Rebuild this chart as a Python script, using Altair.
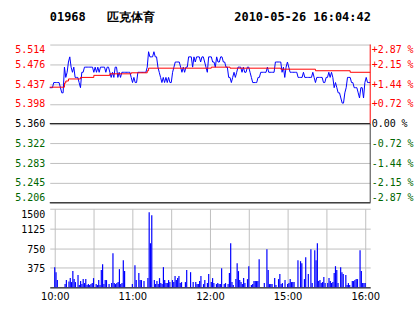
import json
import altair as alt
import pandas as pd

# ---------------- data ----------------
price_minutes = list(range(241))
price_values = [
    5.43, 5.43, 5.43, 5.44, 5.44, 5.44, 5.44, 5.44, 5.43, 5.42,
    5.42, 5.47, 5.45, 5.46, 5.48, 5.49, 5.47, 5.46, 5.47, 5.45,
    5.45, 5.45, 5.44, 5.43, 5.46, 5.46, 5.47, 5.47, 5.47, 5.47,
    5.47, 5.47, 5.47, 5.46, 5.47, 5.46, 5.47, 5.46, 5.47, 5.47,
    5.47, 5.47, 5.46, 5.47, 5.47, 5.46, 5.45, 5.46, 5.45, 5.47,
    5.47, 5.45, 5.46, 5.45, 5.46, 5.46, 5.46, 5.46, 5.46, 5.46,
    5.46, 5.45, 5.44, 5.45, 5.44, 5.44, 5.46, 5.46, 5.46, 5.46,
    5.46, 5.46, 5.46, 5.47, 5.50, 5.49, 5.49, 5.49, 5.50, 5.49,
    5.49, 5.47, 5.46, 5.45, 5.44, 5.45, 5.44, 5.45, 5.44, 5.45,
    5.44, 5.44, 5.46, 5.47, 5.48, 5.48, 5.48, 5.48, 5.47, 5.46,
    5.47, 5.46, 5.47, 5.47, 5.49, 5.49, 5.49, 5.47, 5.49, 5.48,
    5.49, 5.49, 5.49, 5.48, 5.49, 5.49, 5.48, 5.47, 5.46, 5.49,
    5.49, 5.49, 5.48, 5.48, 5.47, 5.49, 5.48, 5.48, 5.49, 5.49,
    5.48, 5.48, 5.47, 5.47, 5.45, 5.45, 5.44, 5.45, 5.46, 5.45,
    5.46, 5.47, 5.47, 5.47, 5.46, 5.47, 5.46, 5.46, 5.47, 5.47,
    5.46, 5.45, 5.44, 5.44, 5.44, 5.44, 5.45, 5.45, 5.46, 5.46,
    5.46, 5.46, 5.46, 5.47, 5.46, 5.46, 5.46, 5.46, 5.46, 5.48,
    5.48, 5.48, 5.48, 5.48, 5.46, 5.47, 5.45, 5.47, 5.48, 5.47,
    5.46, 5.46, 5.46, 5.46, 5.46, 5.46, 5.45, 5.45, 5.45, 5.45,
    5.46, 5.45, 5.45, 5.45, 5.45, 5.45, 5.45, 5.46, 5.45, 5.44,
    5.45, 5.45, 5.45, 5.45, 5.45, 5.44, 5.44, 5.45, 5.45, 5.46,
    5.45, 5.46, 5.45, 5.43, 5.44, 5.43, 5.42, 5.42, 5.41, 5.40,
    5.40, 5.42, 5.43, 5.45, 5.45, 5.45, 5.44, 5.44, 5.43, 5.43,
    5.43, 5.42, 5.41, 5.43, 5.43, 5.41, 5.44, 5.45, 5.44, 5.44,
    5.44,
]

avg_minutes = [0, 11, 12, 14, 23, 33, 45, 61, 73, 74, 121, 135, 173, 199, 225, 240]
avg_values = [5.431, 5.439, 5.443, 5.447, 5.450, 5.454, 5.457, 5.459,
              5.463, 5.468, 5.470, 5.468, 5.466, 5.463, 5.460, 5.460]

vol_minutes = [
    0, 1, 2, 8, 9, 11, 12, 13, 14, 15, 16, 18, 19, 20, 21, 22, 23, 24, 25, 26,
    27, 28, 29, 30, 32, 33, 34, 35, 36, 37, 38, 39, 40, 42, 44, 45, 46, 47, 48, 49,
    50, 51, 52, 53, 54, 60, 62, 63, 65, 66, 67, 69, 72, 73, 74, 75, 77, 78, 79, 80,
    81, 82, 83, 84, 85, 86, 87, 88, 89, 91, 92, 93, 94, 95, 96, 97, 98, 101, 102, 105,
    107, 109, 110, 111, 112, 113, 115, 116, 118, 119, 121, 122, 123, 125, 126, 127, 128, 129, 131, 132,
    134, 135, 136, 137, 138, 140, 141, 142, 143, 144, 145, 146, 147, 149, 150, 152, 153, 154, 155, 156,
    157, 158, 162, 164, 165, 166, 167, 168, 170, 171, 173, 174, 175, 176, 178, 180, 181, 182, 183, 184,
    185, 188, 190, 191, 193, 194, 196, 198, 199, 201, 202, 203, 204, 205, 206, 207, 208, 209, 211, 212,
    213, 214, 215, 216, 217, 218, 219, 221, 222, 223, 225, 226, 227, 228, 230, 231, 232, 233, 234, 236,
    237, 238, 239, 240,
]
vol_values = [
    386, 290, 139, 63, 139, 114, 177, 101, 310, 158, 101, 234, 44, 120, 63, 158, 82, 158, 44, 63,
    44, 63, 82, 177, 63, 44, 139, 44, 329, 443, 63, 139, 139, 63, 82, 652, 82, 63, 82, 101,
    348, 63, 82, 519, 310, 63, 424, 139, 272, 139, 139, 120, 177, 1431, 842, 1374, 139, 63, 120, 63,
    177, 82, 63, 386, 139, 82, 82, 139, 101, 139, 101, 215, 139, 177, 215, 82, 101, 101, 329, 290,
    101, 101, 63, 63, 120, 215, 63, 139, 82, 253, 101, 177, 82, 63, 82, 63, 63, 367, 63, 82,
    63, 272, 842, 101, 44, 158, 462, 310, 139, 101, 63, 177, 82, 158, 405, 44, 63, 120, 120, 120,
    120, 538, 82, 728, 329, 63, 63, 63, 177, 44, 158, 253, 63, 82, 139, 63, 82, 158, 101, 101,
    101, 519, 500, 462, 158, 576, 253, 728, 82, 709, 519, 842, 120, 139, 82, 101, 196, 82, 82, 177,
    120, 82, 101, 272, 405, 329, 82, 386, 290, 253, 234, 44, 82, 44, 120, 120, 139, 158, 158, 709,
    310, 82, 82, 82,
]

prev_close = 5.360
price_ticks = [5.514, 5.4755, 5.437, 5.3985, 5.360, 5.3215, 5.283, 5.2445, 5.206]
price_labels = ["5.514", "5.476", "5.437", "5.398", "5.360", "5.322", "5.283", "5.245", "5.206"]
pct_labels = ["+2.87\u00a0%", "+2.15\u00a0%", "+1.44\u00a0%", "+0.72\u00a0%", "\u00a00.00\u00a0%",
              "-0.72\u00a0%", "-1.44\u00a0%", "-2.15\u00a0%", "-2.87\u00a0%"]
vol_ticks = [0, 375, 750, 1125, 1500]
time_ticks = [0, 30, 60, 90, 120, 150, 180, 210, 240]
time_labels = ["10:00", "", "11:00", "", "12:00", "", "15:00", "", "16:00"]
title_parts = ["01968", "匹克体育", "2010-05-26 16:04:42"]
title_text = title_parts[0] + "\u00a0" * 3 + title_parts[1] + "\u00a0" * 11 + title_parts[2].replace(" ", "\u00a0")

# ---------------- styling ----------------
RED = "#ff0000"
GREEN = "#006600"
BLUE = "#0000ff"
GRID = "#c0c0c0"
MONO = "DejaVu Sans Mono"

price_df = pd.DataFrame({"minute": price_minutes, "price": price_values})
avg_df = pd.DataFrame({"minute": avg_minutes, "price": avg_values})
vol_df = pd.DataFrame({"minute": vol_minutes, "vol": vol_values})
ref_df = pd.DataFrame({"price": [prev_close, price_ticks[-1]]})
border_df = pd.DataFrame({
    "minute": [time_ticks[-1], time_ticks[-1]],
    "lo": [prev_close, price_ticks[-1]],
    "hi": [price_ticks[0], prev_close],
    "part": ["up", "down"],
})

xs = alt.Scale(domain=[0, 240], nice=False, zero=False)
ys = alt.Scale(domain=[price_ticks[-1], price_ticks[0]], nice=False, zero=False)

idx_expr = "round((5.514 - datum.value) / 0.0385)"
price_label_expr = json.dumps(price_labels) + "[" + idx_expr + "]"
pct_label_expr = json.dumps(pct_labels) + "[" + idx_expr + "]"
color_cond = {
    "condition": [
        {"test": "datum.value > 5.3601", "value": RED},
        {"test": "datum.value < 5.3599", "value": GREEN},
    ],
    "value": "#000000",
}

x_price = alt.X("minute:Q", scale=xs,
                axis=alt.Axis(values=time_ticks, labels=False, ticks=False, domain=False,
                              grid=True, gridColor=GRID, gridOpacity=1, title=None))

left_axis = alt.Axis(values=price_ticks, labelExpr=price_label_expr, labelColor=color_cond,
                     grid=True, gridColor=GRID, gridOpacity=1, ticks=False, domain=False,
                     title=None, labelFont=MONO, labelFontSize=10, labelPadding=5,
                     labelOverlap=False, labelFlush=True)
right_axis = alt.Axis(orient="right", values=price_ticks, labelExpr=pct_label_expr,
                      labelColor=color_cond, grid=False, ticks=False, domain=False,
                      title=None, labelFont=MONO, labelFontSize=10, labelPadding=1,
                      labelOverlap=False, labelFlush=True, labelAlign="left")

blue_line = alt.Chart(price_df).mark_line(color=BLUE, strokeWidth=1).encode(
    x=x_price,
    y=alt.Y("price:Q", scale=ys, axis=left_axis),
)
ref_rules = alt.Chart(ref_df).mark_rule(color="#000000", strokeWidth=1).encode(
    y=alt.Y("price:Q", scale=ys, axis=None),
)
red_line = alt.Chart(avg_df).mark_line(color=RED, strokeWidth=1, interpolate="step-after").encode(
    x=alt.X("minute:Q", scale=xs, axis=None),
    y=alt.Y("price:Q", scale=ys, axis=right_axis),
)
border = alt.Chart(border_df).mark_rule(strokeWidth=1).encode(
    x=alt.X("minute:Q", scale=xs, axis=None),
    y=alt.Y("lo:Q", scale=ys, axis=None),
    y2="hi:Q",
    color=alt.Color("part:N", scale=alt.Scale(domain=["up", "down"], range=[RED, "#404040"]),
                    legend=None),
)

price_panel = alt.layer(blue_line, ref_rules, red_line, border).resolve_scale(
    y="independent"
).properties(width=322, height=159)

time_label_expr = json.dumps(time_labels) + "[round(datum.value / 30)]"
vol_panel = alt.Chart(vol_df).mark_bar(color=BLUE, size=1.2).encode(
    x=alt.X("minute:Q", scale=xs,
            axis=alt.Axis(values=time_ticks, labelExpr=time_label_expr, ticks=False,
                          domain=True, domainColor="#000000", domainWidth=1,
                          grid=True, gridColor=GRID, gridOpacity=1, title=None,
                          labelFont="DejaVu Sans", labelFontSize=10, labelColor="#000000",
                          labelPadding=4, labelFlush=False, labelOverlap=False)),
    y=alt.Y("vol:Q", scale=alt.Scale(domain=[0, 1500], nice=False),
            axis=alt.Axis(values=vol_ticks,
                          labelExpr="datum.value == 0 ? '' : datum.value",
                          grid=True, gridColor=GRID, gridOpacity=1, ticks=False,
                          domain=False, title=None, labelFont=MONO, labelFontSize=10,
                          labelColor="#000000", labelPadding=5, labelOffset=1,
                          labelOverlap=False, labelFlush=True)),
).properties(width=322, height=79)

chart = alt.vconcat(price_panel, vol_panel, spacing=6, bounds="flush").properties(
    title=alt.TitleParams(text=title_text, anchor="start", frame="group",
                          font=MONO, fontSize=12, fontWeight="bold", color="#000000",
                          offset=20),
    padding={"left": 14, "top": 10, "right": 0, "bottom": 11},
    background="#ffffff",
).configure_view(stroke=None)

chart.save("out.html", embed_options={"renderer": "svg", "actions": False})
